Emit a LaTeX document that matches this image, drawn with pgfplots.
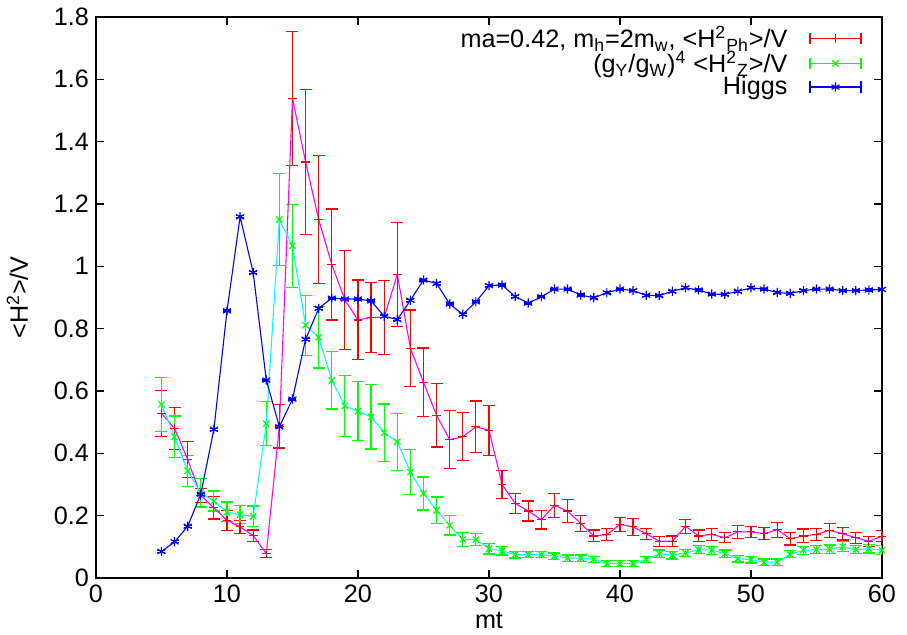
\documentclass[border=0pt]{standalone}
\usepackage{fontspec}
\setmainfont{Liberation Sans}
\usepackage{pgfplots}
\usepackage{pgfplotstable}
\pgfplotsset{compat=1.18}

\pgfplotstableread{
x y ey
5 0.528 0.074
6 0.480 0.067
7 0.380 0.058
8 0.265 0.023
9 0.225 0.036
10 0.185 0.032
11 0.164 0.021
12 0.136 0.018
13 0.078 0.013
14 0.487 0.070
15 1.539 0.215
16 1.335 0.233
17 1.150 0.206
18 1.006 0.178
19 0.892 0.159
20 0.828 0.128
21 0.836 0.113
22 0.836 0.118
23 0.974 0.167
24 0.737 0.123
25 0.628 0.110
26 0.522 0.102
27 0.444 0.093
28 0.453 0.077
29 0.485 0.083
30 0.474 0.080
31 0.300 0.045
32 0.239 0.033
33 0.215 0.032
34 0.187 0.030
35 0.233 0.038
36 0.215 0.036
37 0.175 0.026
38 0.135 0.019
39 0.139 0.020
40 0.172 0.022
41 0.164 0.027
42 0.142 0.018
43 0.118 0.016
44 0.118 0.017
45 0.166 0.022
46 0.135 0.019
47 0.140 0.020
48 0.129 0.016
49 0.148 0.021
50 0.148 0.018
51 0.142 0.019
52 0.155 0.024
53 0.126 0.020
54 0.135 0.022
55 0.140 0.020
56 0.153 0.022
57 0.142 0.020
58 0.129 0.018
59 0.118 0.016
60 0.134 0.018
}\redtab

\pgfplotstableread{
x y ey
5 0.557 0.087
6 0.453 0.067
7 0.344 0.050
8 0.273 0.045
9 0.247 0.032
10 0.212 0.032
11 0.203 0.029
12 0.198 0.033
13 0.495 0.071
14 1.150 0.148
15 1.066 0.133
16 0.811 0.096
17 0.772 0.098
18 0.634 0.092
19 0.552 0.097
20 0.535 0.095
21 0.517 0.103
22 0.466 0.092
23 0.437 0.091
24 0.340 0.071
25 0.271 0.053
26 0.217 0.043
27 0.169 0.031
28 0.124 0.023
29 0.123 0.020
30 0.094 0.017
31 0.087 0.013
32 0.075 0.011
33 0.075 0.010
34 0.075 0.010
35 0.070 0.010
36 0.064 0.010
37 0.064 0.010
38 0.060 0.010
39 0.046 0.010
40 0.046 0.010
41 0.046 0.010
42 0.060 0.010
43 0.078 0.012
44 0.073 0.012
45 0.080 0.012
46 0.091 0.013
47 0.089 0.013
48 0.078 0.012
49 0.062 0.011
50 0.059 0.011
51 0.051 0.010
52 0.051 0.010
53 0.076 0.011
54 0.089 0.013
55 0.091 0.013
56 0.092 0.014
57 0.100 0.016
58 0.091 0.013
59 0.094 0.014
60 0.089 0.014
}\greentab

\pgfplotstableread{
x y ey
5 0.085 0.003
6 0.116 0.003
7 0.166 0.003
8 0.269 0.003
9 0.477 0.003
10 0.857 0.003
11 1.159 0.003
12 0.980 0.003
13 0.635 0.003
14 0.485 0.003
15 0.574 0.003
16 0.766 0.003
17 0.865 0.003
18 0.898 0.003
19 0.895 0.003
20 0.895 0.003
21 0.889 0.003
22 0.840 0.003
23 0.829 0.003
24 0.891 0.003
25 0.956 0.003
26 0.945 0.003
27 0.879 0.003
28 0.846 0.003
29 0.886 0.003
30 0.938 0.003
31 0.940 0.003
32 0.903 0.003
33 0.882 0.003
34 0.902 0.003
35 0.927 0.003
36 0.927 0.003
37 0.908 0.003
38 0.899 0.003
39 0.915 0.003
40 0.927 0.003
41 0.922 0.003
42 0.907 0.003
43 0.906 0.003
44 0.920 0.003
45 0.931 0.003
46 0.924 0.003
47 0.911 0.003
48 0.910 0.003
49 0.920 0.003
50 0.931 0.003
51 0.927 0.003
52 0.916 0.003
53 0.913 0.003
54 0.922 0.003
55 0.927 0.003
56 0.927 0.003
57 0.922 0.003
58 0.922 0.003
59 0.924 0.003
60 0.926 0.003
}\bluetab

\definecolor{gpred}{RGB}{255,0,0}
\definecolor{gpgreen}{RGB}{0,255,0}
\definecolor{gpblue}{RGB}{0,0,255}
\definecolor{gpmag}{RGB}{255,0,255}
\definecolor{gpcyan}{RGB}{0,255,255}

\pgfplotsset{
  errlegend/.style={
    legend image code/.code={
      \path (-4pt,0pt);
      \draw[##1, no markers, line width=0.6pt]
        (0pt,-2.8pt) -- (0pt,2.8pt)
        (0pt,0pt) -- (25.5pt,0pt)
        (25.5pt,-2.8pt) -- (25.5pt,2.8pt);
      \draw[##1] plot coordinates {(12.75pt,0pt)};
    }
  },
  bars/.style 2 args={draw=none, mark=none, forget plot,
    /pgfplots/error bars/y dir=both,
    /pgfplots/error bars/y explicit,
    /pgfplots/error bars/error bar style={draw=#1, color=#1, line width=0.6pt},
    /pgfplots/error bars/error mark options={rotate=90, mark size=#2, draw=#1, color=#1, line width=0.6pt}},
}

\begin{document}
\begin{tikzpicture}
\begin{axis}[
  scale only axis,
  width=393pt, height=280.5pt,
  xmin=0, xmax=60, ymin=0, ymax=1.8,
  xtick={0,10,20,30,40,50,60},
  ytick={0,0.2,0.4,0.6,0.8,1,1.2,1.4,1.6,1.8},
  yticklabels={0,0.2,0.4,0.6,0.8,1,1.2,1.4,1.6,1.8},
  /pgf/number format/assume math mode=true,
  tick align=inside,
  major tick length=4pt,
  axis line style={line width=0.8pt},
  every tick/.style={black, line width=0.6pt},
  tick label style={font=\fontsize{12.6}{14}\selectfont},
  label style={font=\fontsize{12.6}{14}\selectfont},
  xlabel={mt},
  ylabel={<H\textsuperscript{2}>/V},
  xlabel style={yshift=2pt},
  ylabel style={yshift=6pt},
  legend plot pos=right,
  legend cell align=right,
  legend style={at={(1,1)}, anchor=north east, xshift=-9pt, yshift=-1.5pt,
    draw=none, fill=none, font=\fontsize{12.6}{14}\selectfont,
    row sep=-3.5pt, column sep=5pt, inner sep=1pt},
]
% error bars with caps
\addplot[gpred, bars={gpred}{3pt}] table[x=x, y=y, y error=ey] {\redtab};
\addplot[gpgreen, bars={gpgreen}{3pt}] table[x=x, y=y, y error=ey] {\greentab};
\addplot[gpblue, bars={gpblue}{2pt}] table[x=x, y=y, y error=ey] {\bluetab};
% connecting lines
\addplot[gpmag, line width=0.55pt, no markers, forget plot] table[x=x, y=y] {\redtab};
\addplot[gpcyan, line width=0.55pt, no markers, forget plot] table[x=x, y=y] {\greentab};
\addplot[gpblue, line width=0.55pt, no markers, forget plot] table[x=x, y=y] {\bluetab};
% point marks with legend entries
\addplot[gpred, only marks, mark=+, mark size=2.2pt, line width=0.6pt, errlegend] table[x=x, y=y] {\redtab};
\addlegendentry{ma=0.42, m\textsubscript{h}=2m\textsubscript{w}, <H\textsuperscript{2}\textsubscript{Ph}>/V}
\addplot[gpgreen, only marks, mark=x, mark size=2.2pt, line width=0.6pt, errlegend] table[x=x, y=y] {\greentab};
\addlegendentry{(g\textsubscript{Y}/g\textsubscript{W})\textsuperscript{4} <H\textsuperscript{2}\textsubscript{Z}>/V}
\addplot[gpblue, only marks, mark=asterisk, mark size=2.3pt, line width=0.6pt, errlegend] table[x=x, y=y] {\bluetab};
\addlegendentry{Higgs}
\end{axis}
\pgfresetboundingbox
\path[use as bounding box] (current axis.south west) ++(-48pt,-28.5pt) rectangle ++(453.5pt,317.5pt);
\end{tikzpicture}
\end{document}
